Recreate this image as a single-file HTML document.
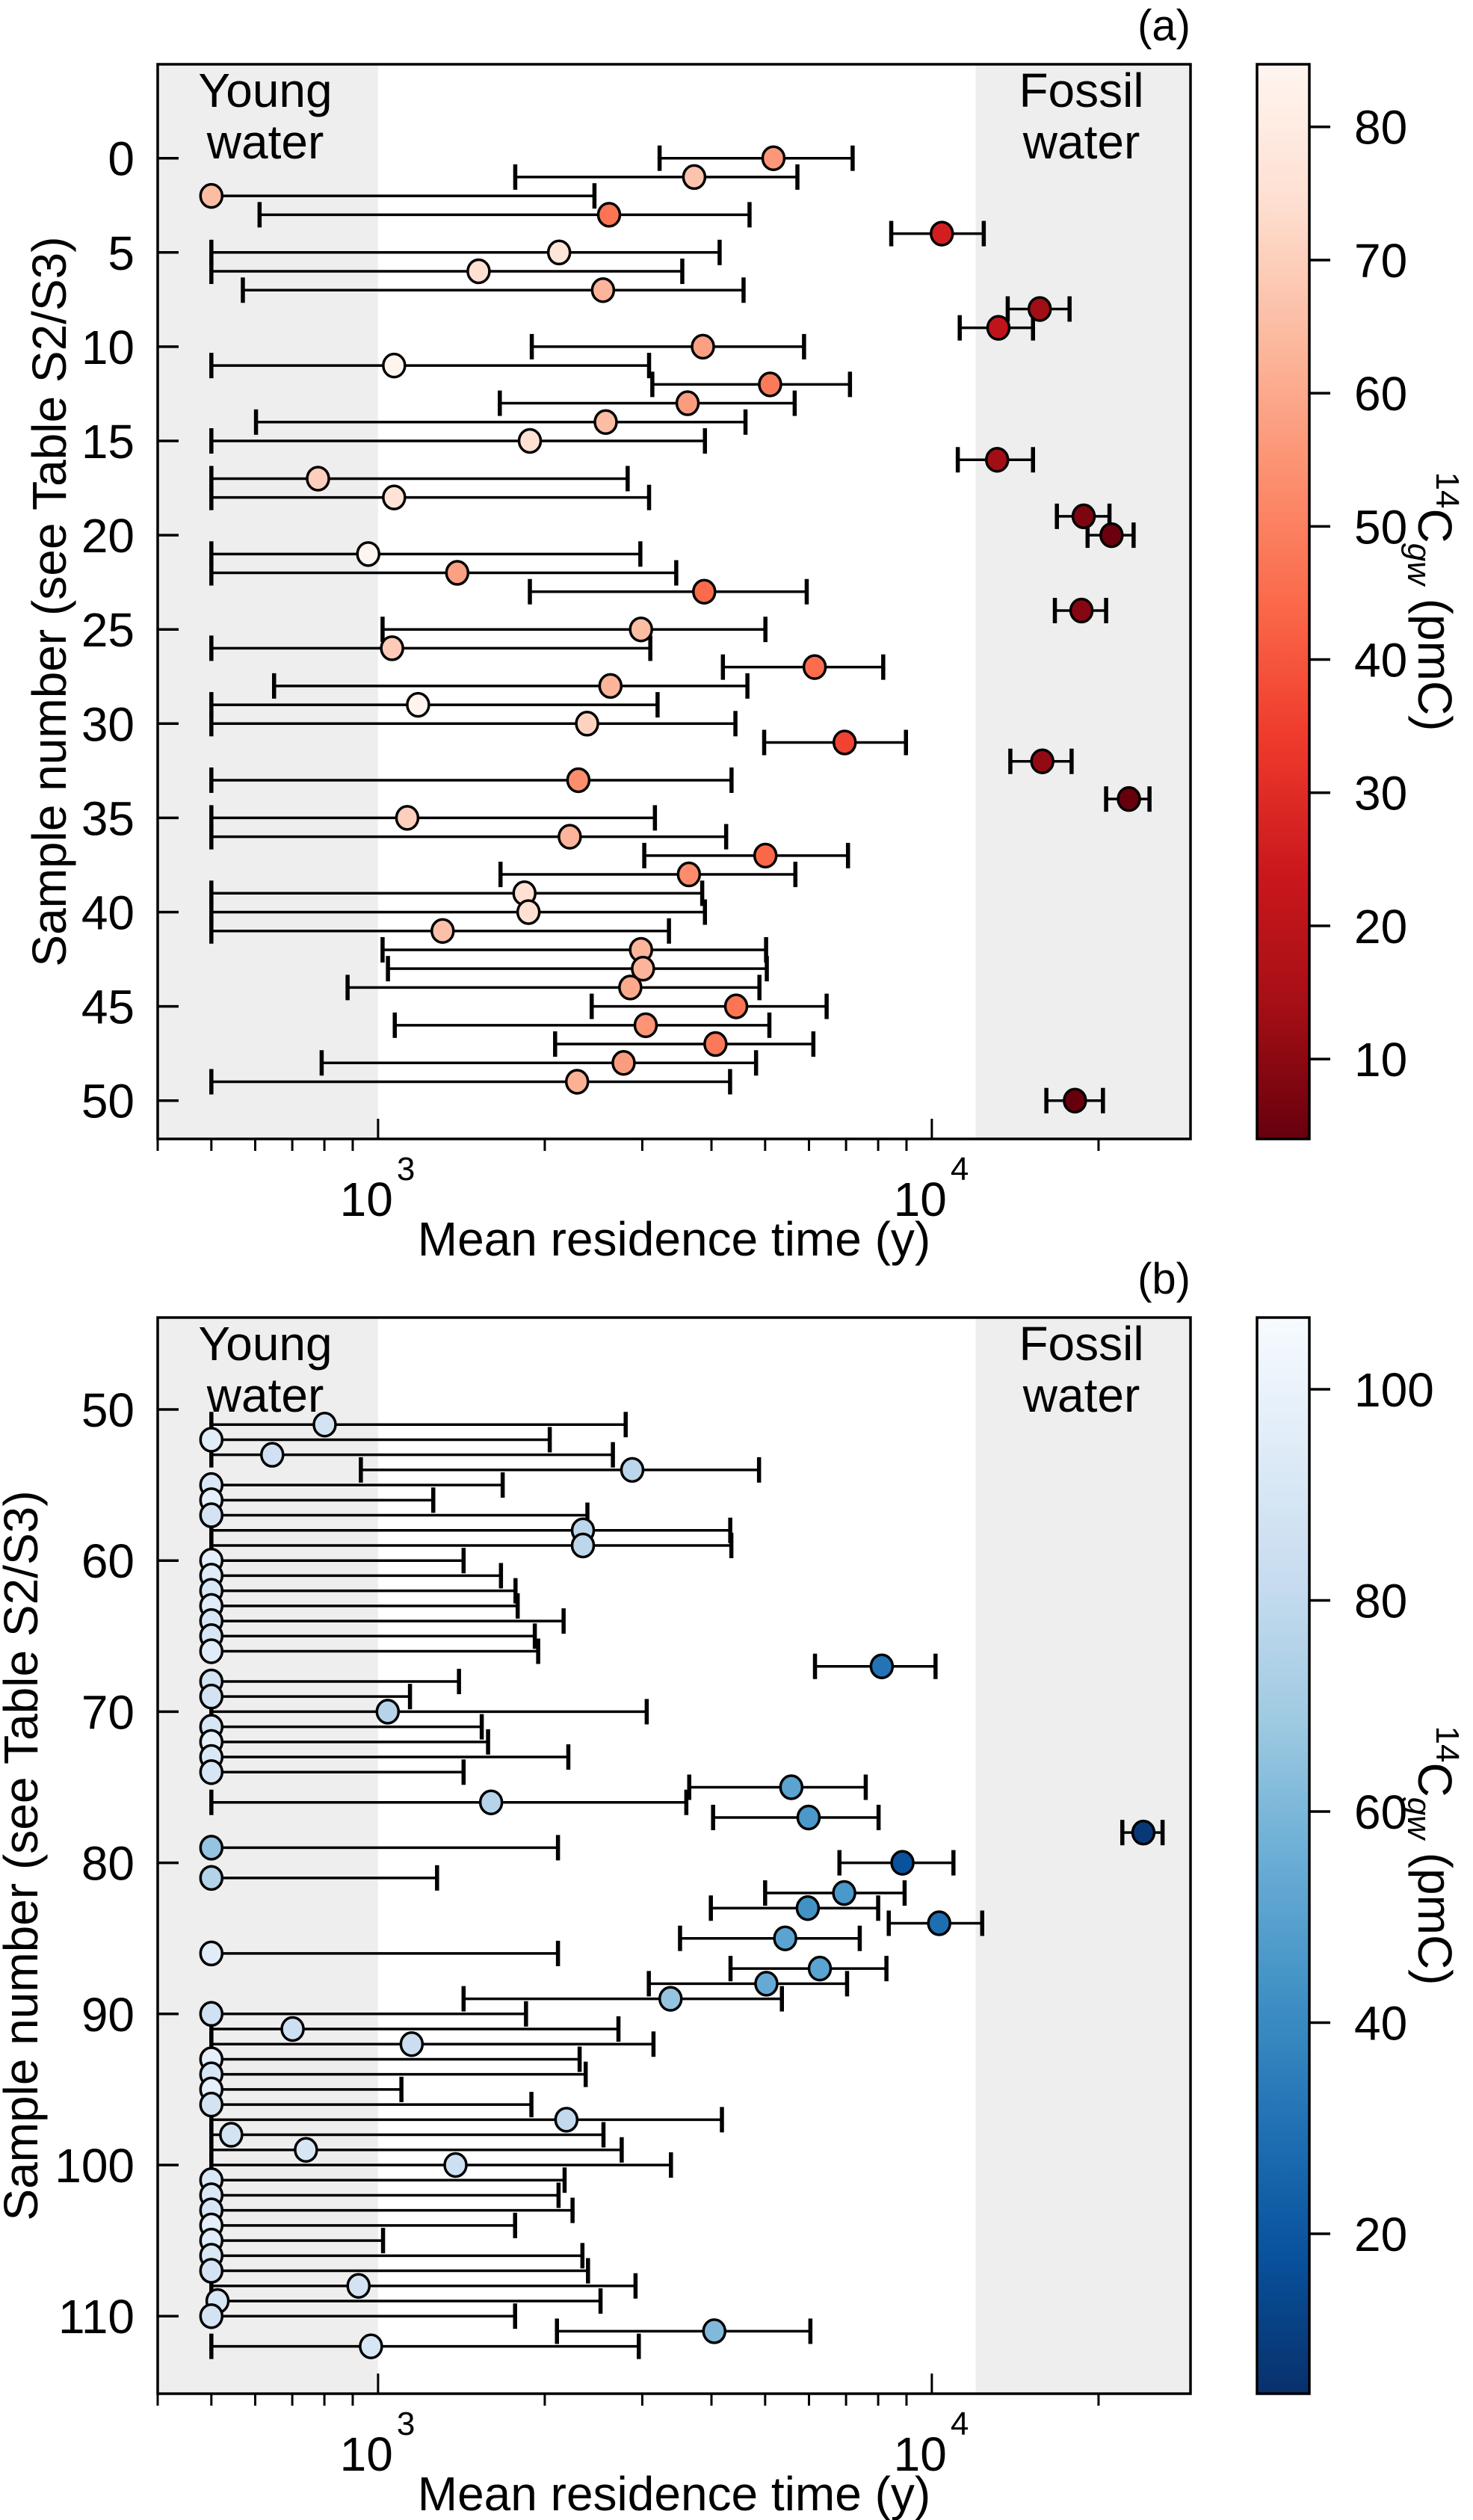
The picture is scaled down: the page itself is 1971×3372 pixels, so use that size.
<!DOCTYPE html>
<html><head><meta charset="utf-8">
<style>
html,body{margin:0;padding:0;background:#fff;}
svg{display:block;}
text{font-family:"Liberation Sans",Arial,sans-serif;fill:#000;}
</style></head>
<body>
<svg id="fig" xmlns="http://www.w3.org/2000/svg" width="1971" height="3372" viewBox="0 0 1971 3372">
  <rect x="0" y="0" width="1971" height="3372" fill="#fff"/>
  <g id="panelA"></g>
  <g id="panelB"></g>
</svg>
<script>
// ---- Panel (a) data ----
const samplesA = [0,1,2,3,4,5,6,7,8,9,10,11,12,13,14,15,16,17,18,19,20,21,22,23,24,25,26,27,28,29,30,31,32,33,34,35,36,37,38,39,40,41,42,43,44,45,46,47,48,49,50];
const mrtA = [5176,3723,500,2613,10425,2123,1519,2548,15660,13190,3860,1069,5104,3622,2577,1880,13120,779,1069,18800,21110,960,1390,3881,18630,2984,1060,6144,2628,1181,2385,6959,15830,2300,22690,1129,2219,5006,3642,1838,1869,1308,2984,3009,2854,4432,3043,4067,2776,2288,18130];
const lowA = [3224,1769,500,611,8447,500,500,570,13710,11230,1895,500,3128,1659,602,500,11140,500,500,16820,19110,500,500,1880,16680,1019,500,4195,649,500,500,4980,13860,500,20640,500,500,3025,1664,500,500,500,1019,1042,881,2431,1072,2088,791,500,16100];
const highA = [7194,5718,2459,4686,12410,4138,3543,4571,17730,15230,5878,3086,7115,5654,4608,3893,15230,2823,3086,20930,23140,2976,3455,5944,20640,5006,3102,8170,4645,3197,4419,8980,17880,4348,24720,3162,4252,7057,5670,3849,3893,3352,5020,5035,4883,6457,5089,6110,4815,4322,20370];
const pmcA = [56,67,65,47,26,77,75,63,13.5,21,58,84,48.5,57,65,75,13.5,70,76,7.6,4.5,85,58,44.5,9,65,69,45,63,84,71,36,11,53.5,4,70,63,44,53,75,75,66,63,63,60,47,55,48,57,62,4];
const yTicksA = [0,5,10,15,20,25,30,35,40,45,50];
const cbTicksA = [10,20,30,40,50,60,70,80];

// ---- Panel (b) data ----
const samplesB = [51,52,53,54,55,56,57,58,59,60,61,62,63,64,65,66,67,68,69,70,71,72,73,74,75,76,77,78,79,80,81,82,83,84,85,86,87,88,89,90,91,92,93,94,95,96,97,98,99,100,101,102,103,104,105,106,107,108,109,110,111,112];
const mrtB = [801,500,644,2877,500,500,500,2344,2344,500,500,500,500,500,500,500,8121,500,500,1041,500,500,500,500,5575,1600,5990,24100,500,8850,500,6946,5970,10310,5435,500,6277,5026,3374,500,701,1150,500,500,500,500,2188,543,741,1380,500,500,500,500,500,500,500,922,513,500,4047,971];
const lowB = [500,500,500,931,500,500,500,500,500,500,500,500,500,500,500,500,6152,500,500,500,500,500,500,500,3647,500,4027,22080,500,6810,500,5000,3990,8360,3510,500,4330,3083,1427,500,500,500,500,500,500,500,500,500,500,500,500,500,500,500,500,500,500,500,500,500,2104,500];
const highB = [2800,2042,2655,4875,1679,1258,2388,4325,4345,1427,1667,1771,1787,2163,1919,1946,10155,1400,1142,3056,1539,1580,2206,1427,7597,3603,8014,26100,2113,10940,1278,8930,8000,12330,7410,2113,8280,7030,5361,1850,2717,3143,2312,2371,1102,1892,4178,2553,2754,3380,2172,2118,2245,1768,1021,2339,2394,2917,2522,1768,6035,2957];
const pmcB = [88,95,86,78,92,97,88,78,78,97,95,92,95,90,90,95,31,88,88,76,90,97,92,90,51,76,46,8,66,18,75,46,43,29,51,95,51,54,66,86,85,84,97,90,97,88,80,88,90,85,92,92,90,97,95,92,88,88,90,88,61,90];
const yTicksB = [50,60,70,80,90,100,110];
const cbTicksB = [20,40,60,80,100];

const xMajor = [1000,10000];
const xMinor = [400,500,600,700,800,900,2000,3000,4000,5000,6000,7000,8000,9000,20000];

const REDS = ['#fff5f0','#fee0d2','#fcbba1','#fc9272','#fb6a4a','#ef3b2c','#cb181d','#a50f15','#67000d'];
const BLUES = ['#f7fbff','#deebf7','#c6dbef','#9ecae1','#6baed6','#4292c6','#2171b5','#08519c','#08306b'];

const NS = 'http://www.w3.org/2000/svg';
const PL = 211, PR = 1593;
const LOGMIN = Math.log10(400), LOGSPAN = 741;
function xScale(v){ return PL + (Math.log10(v) - LOGMIN) * LOGSPAN; }

function hex2rgb(h){ return [parseInt(h.slice(1,3),16),parseInt(h.slice(3,5),16),parseInt(h.slice(5,7),16)]; }
function cmap(stops, t){
  t = Math.max(0, Math.min(1, t));
  const p = t * (stops.length - 1);
  const i = Math.min(stops.length - 2, Math.floor(p));
  const f = p - i;
  const a = hex2rgb(stops[i]), b = hex2rgb(stops[i+1]);
  return 'rgb(' + a.map((c,k)=>Math.round(c + (b[k]-c)*f)).join(',') + ')';
}

function mk(parent, tag, attrs, text){
  const el = document.createElementNS(NS, tag);
  for (const k in attrs) el.setAttribute(k, attrs[k]);
  if (text !== undefined) el.textContent = text;
  parent.appendChild(el);
  return el;
}

function drawPanel(cfg){
  const g = document.getElementById(cfg.id);
  const top = cfg.top, bot = cfg.bot;
  const yScale = s => cfg.y0 + (s - cfg.s0) * cfg.dy;
  const cmapFn = v => cmap(cfg.stops, (cfg.vmax - v) / (cfg.vmax - cfg.vmin));

  let r = mk(g, 'rect', {x:PL, y:top, width:xScale(1000)-PL, height:bot-top, fill:'#eeeeee'});
  
  
  r = mk(g, 'rect', {x:xScale(12000), y:top, width:PR-xScale(12000), height:bot-top, fill:'#eeeeee'});
  
  

  let t;
  t = mk(g, 'text', {x:355, y:top+57, 'font-size':64, 'text-anchor':'middle'}, 'Young');
  
  
  t = mk(g, 'text', {x:355, y:top+126, 'font-size':64, 'text-anchor':'middle'}, 'water');
  
  
  t = mk(g, 'text', {x:1447, y:top+57, 'font-size':64, 'text-anchor':'middle'}, 'Fossil');
  
  
  t = mk(g, 'text', {x:1447, y:top+126, 'font-size':64, 'text-anchor':'middle'}, 'water');
  
  

  const eg = mk(g, 'g', {stroke:'#000', 'stroke-width':3.5, fill:'none'});
  
  
  for (let i = 0; i < cfg.s.length; i++){
    const y = yScale(cfg.s[i]);
    const x1 = xScale(cfg.lo[i]), x2 = xScale(cfg.hi[i]);
    const l = mk(eg, 'line', {x1:x1, y1:y, x2:x2, y2:y});
    
    
    const c1 = mk(eg, 'line', {x1:x1, y1:y-17, x2:x1, y2:y+17, 'stroke-width':5.5});
    
    
    const c2 = mk(eg, 'line', {x1:x2, y1:y-17, x2:x2, y2:y+17, 'stroke-width':5.5});
    
    
  }
  const pg = mk(g, 'g', {stroke:'#000', 'stroke-width':3.5});
  
  
  for (let i = 0; i < cfg.s.length; i++){
    const c = mk(pg, 'ellipse', {cx:xScale(cfg.v[i]), cy:yScale(cfg.s[i]), rx:14.5, ry:15.5, fill:cmapFn(cfg.p[i])});
    
    
  }

  const fr = mk(g, 'rect', {x:PL, y:top, width:PR-PL, height:bot-top, fill:'none', stroke:'#000', 'stroke-width':3.5});
  
  

  cfg.yTicks.forEach(s => {
    const y = yScale(s);
    const tk = mk(g, 'line', {x1:PL, y1:y, x2:PL+28, y2:y, stroke:'#000', 'stroke-width':3.5});
    
    
    const lb = mk(g, 'text', {x:180, y:y+23, 'font-size':64, 'text-anchor':'end'}, String(s));
    
    
  });
  xMajor.forEach(v => {
    const x = xScale(v);
    const tk = mk(g, 'line', {x1:x, y1:bot, x2:x, y2:bot-27, stroke:'#000', 'stroke-width':3});
    
    
    const lb = mk(g, 'text', {x:x+20, y:bot+103, 'font-size':64, 'text-anchor':'end'}, '10');
    
    
    const ex = mk(g, 'text', {x:x+25, y:bot+55, 'font-size':44}, String(Math.round(Math.log10(v))));
    
    
  });
  xMinor.forEach(v => {
    const x = xScale(v);
    if (x < PL - 3 || x > PR) return;
    const tk = mk(g, 'line', {x1:x, y1:bot, x2:x, y2:bot+16, stroke:'#000', 'stroke-width':3});
    
    
  });
  t = mk(g, 'text', {x:902, y:bot+156, 'font-size':64, 'text-anchor':'middle'}, 'Mean residence time (y)');
  
  
  const ym = (top+bot)/2;
  t = mk(g, 'text', {x:0, y:0, 'font-size':64, 'text-anchor':'middle', transform:'translate('+cfg.ytx+','+ym+') rotate(-90)'}, 'Sample number (see Table S2/S3)');
  
  
  t = mk(g, 'text', {x:PR, y:top-32, 'font-size':58, 'text-anchor':'end'}, cfg.label);
  
  

  const CX = 1682, CW = 70;
  const gid = 'grad_' + cfg.id;
  const defs = mk(g, 'defs', {});
  const lg = mk(defs, 'linearGradient', {id:gid, x1:0, y1:0, x2:0, y2:1});
  for (let k = 0; k <= 40; k++){
    const f = k/40;
    const v = cfg.vmax - f*(cfg.vmax - cfg.vmin);
    mk(lg, 'stop', {offset:f, 'stop-color':cmapFn(v)});
  }
  const cb = mk(g, 'rect', {x:CX, y:top, width:CW, height:bot-top, fill:'url(#'+gid+')', stroke:'#000', 'stroke-width':3.5});
  
  
  const cbY = v => top + (cfg.vmax - v) / (cfg.vmax - cfg.vmin) * (bot - top);
  cfg.cbTicks.forEach(v => {
    const y = cbY(v);
    const tk = mk(g, 'line', {x1:CX+CW, y1:y, x2:CX+CW+28, y2:y, stroke:'#000', 'stroke-width':3.5});
    
    
    const lb = mk(g, 'text', {x:1812, y:y+23, 'font-size':64}, String(v));
    
    
  });
  t = mk(g, 'text', {x:0, y:0, 'font-size':64, 'text-anchor':'middle', transform:'translate(1898,'+ym+') rotate(90)'});
  
  
  mk(t, 'tspan', {'font-size':44, dy:-24}, '14');
  mk(t, 'tspan', {dy:24}, 'C');
  mk(t, 'tspan', {'font-size':44, dy:14, 'font-style':'italic'}, 'gw');
  mk(t, 'tspan', {dy:-14}, ' (pmC)');
}

drawPanel({id:'panelA', top:86, bot:1524, y0:211.7, s0:0, dy:25.22, ytx:88,
  s:samplesA, v:mrtA, lo:lowA, hi:highA, p:pmcA, stops:REDS, vmin:4.0, vmax:84.7,
  yTicks:yTicksA, cbTicks:cbTicksA, label:'(a)'});
drawPanel({id:'panelB', top:1763, bot:3203, y0:1886, s0:50, dy:20.22, ytx:50,
  s:samplesB, v:mrtB, lo:lowB, hi:highB, p:pmcB, stops:BLUES, vmin:4.85, vmax:106.8,
  yTicks:yTicksB, cbTicks:cbTicksB, label:'(b)'});
</script>
</body></html>
